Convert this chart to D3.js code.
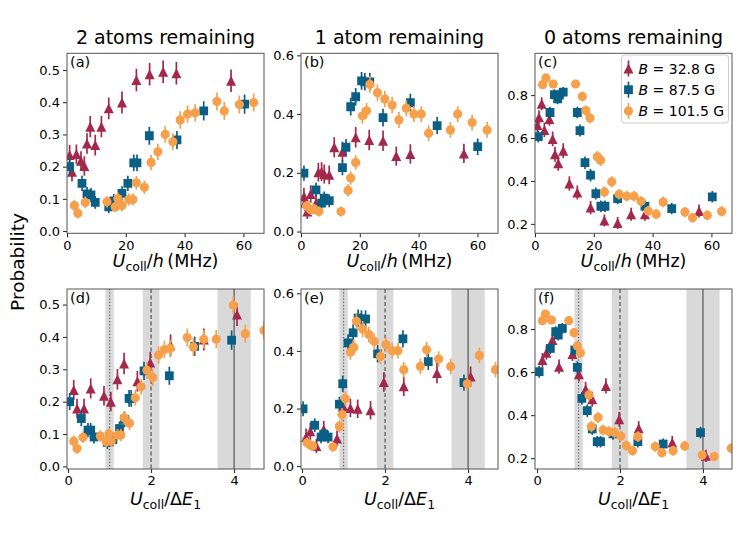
<!DOCTYPE html>
<html><head><meta charset="utf-8">
<script src="https://cdn.jsdelivr.net/npm/d3@7"></script>
<style>
body{margin:0;background:#fff}
svg{display:block}
text{font-family:"DejaVu Sans",sans-serif;fill:#000}
</style>
</head><body>
<svg id="chart" width="747" height="534"></svg>
<script>
// ---------- data ----------
const seriesNames = ["32.8 G", "87.5 G", "101.5 G"];
const seriesColors = ["#A3294C", "#0B5E84", "#F7A04C"];
const columnTitles = ["2 atoms remaining", "1 atom remaining", "0 atoms remaining"];
const panelLetters = ["(a)", "(b)", "(c)", "(d)", "(e)", "(f)"];
const topXTicks = [0, 20, 40, 60];
const bottomXTicks = [0, 2, 4];
const yTicksA = [0, 0.1, 0.2, 0.3, 0.4, 0.5];
const yTicksB = [0, 0.2, 0.4, 0.6];
const yTicksC = [0.2, 0.4, 0.6, 0.8];
const shadedBands = [[0.9, 1.1], [1.8, 2.2], [3.6, 4.4]];
const refLines = [1, 2, 4];
const refLineDash = ["1.2,2", "4,2.5", null];

// [x, y, err] — panel (a): 2 atoms, x in MHz
const aTri = [[0.9,0.236,0.031],[1.7,0.184,0.03],[3.2,0.239,0.03],[4.75,0.218,0.03],[5.9,0.202,0.03],[6.8,0.272,0.032],[7.9,0.324,0.033],[9.6,0.267,0.032],[11.7,0.324,0.033],[14.2,0.381,0.034],[18.7,0.399,0.034],[23.6,0.469,0.035],[28.1,0.487,0.035],[32.7,0.495,0.035],[37.2,0.49,0.035],[55.8,0.467,0.035]];
const aSq = [[0.9,0.2,0.026],[5.1,0.148,0.024],[6.8,0.115,0.022],[8.15,0.112,0.022],[9.6,0.089,0.02],[14.2,0.075,0.02],[15.9,0.094,0.021],[18.7,0.117,0.022],[20.7,0.148,0.024],[22.7,0.212,0.026],[23.8,0.212,0.026],[28,0.296,0.028],[37.4,0.283,0.028],[46.5,0.373,0.03],[60.4,0.394,0.03]];
const aCirc = [[2.5,0.079,0.018],[3.7,0.055,0.016],[6.2,0.089,0.018],[13.6,0.091,0.018],[16.4,0.075,0.017],[17.3,0.101,0.019],[18.7,0.079,0.018],[21,0.098,0.019],[22.4,0.098,0.019],[23.6,0.15,0.021],[26.3,0.136,0.021],[28.6,0.213,0.024],[30.9,0.246,0.025],[33.4,0.3,0.026],[36,0.277,0.026],[38.5,0.345,0.027],[41,0.363,0.027],[43.6,0.367,0.027],[51,0.402,0.028],[53.5,0.373,0.028],[58.6,0.393,0.028],[63.5,0.399,0.028]];
// panel (b): 1 atom
const bTri = [[1.0,0.119,0.03],[1.36,0.099,0.028],[2.15,0.068,0.025],[3.3,0.128,0.03],[5.1,0.097,0.028],[5.9,0.202,0.032],[7.0,0.204,0.032],[7.9,0.196,0.032],[9.6,0.193,0.032],[11.3,0.287,0.034],[14.1,0.272,0.034],[18.6,0.321,0.035],[23.2,0.312,0.035],[27.9,0.309,0.035],[32.4,0.257,0.033],[37.2,0.264,0.033],[55.4,0.266,0.033]];
const bSq = [[1.0,0.199,0.026],[5.1,0.142,0.024],[7.0,0.097,0.022],[7.9,0.114,0.022],[9.6,0.105,0.022],[14.1,0.218,0.026],[15.3,0.287,0.028],[16.9,0.425,0.03],[18.6,0.459,0.03],[20.6,0.513,0.03],[21.7,0.51,0.03],[23.4,0.51,0.03],[27.9,0.388,0.03],[37.2,0.439,0.03],[46.3,0.361,0.029],[60.1,0.289,0.028]];
const bCirc = [[1.9,0.087,0.018],[3.3,0.074,0.017],[4.4,0.077,0.017],[6.1,0.068,0.017],[13.6,0.068,0.017],[16.0,0.14,0.021],[16.9,0.182,0.023],[18.6,0.235,0.025],[20.9,0.394,0.027],[22.3,0.411,0.027],[23.4,0.501,0.028],[26.0,0.473,0.028],[28.5,0.451,0.028],[31.0,0.431,0.028],[33.3,0.38,0.027],[35.8,0.42,0.027],[38.4,0.4,0.027],[40.9,0.4,0.027],[43.4,0.335,0.027],[50.8,0.346,0.027],[53.3,0.4,0.027],[58.2,0.371,0.027],[63.3,0.346,0.027]];
// panel (c): 0 atoms
const cTri = [[0.8,0.661,0.033],[1.36,0.697,0.032],[2.27,0.76,0.03],[3.2,0.638,0.033],[4.9,0.689,0.032],[6.0,0.596,0.034],[6.8,0.524,0.035],[7.9,0.482,0.035],[9.6,0.541,0.035],[11.7,0.388,0.034],[14.4,0.346,0.033],[18.9,0.276,0.031],[23.6,0.216,0.028],[28.1,0.204,0.028],[32.7,0.245,0.03],[37.4,0.245,0.03],[55.8,0.26,0.03]];
const cSq = [[1.13,0.607,0.028],[5.1,0.719,0.027],[6.6,0.802,0.025],[7.7,0.783,0.025],[8.3,0.8,0.025],[9.6,0.814,0.024],[14.4,0.719,0.027],[15.3,0.635,0.028],[17,0.485,0.029],[18.9,0.427,0.029],[20.7,0.341,0.028],[22.4,0.282,0.027],[23.8,0.282,0.027],[28.1,0.318,0.027],[37.4,0.282,0.027],[46.5,0.271,0.026],[60.3,0.326,0.027]];
const cCirc = [[2.6,0.849,0.02],[3.7,0.88,0.018],[6.2,0.852,0.02],[13.8,0.852,0.02],[16.1,0.794,0.022],[17.3,0.728,0.024],[18.7,0.693,0.025],[21.2,0.513,0.027],[22.3,0.497,0.027],[23.6,0.349,0.026],[26.1,0.396,0.026],[28.6,0.338,0.025],[31.2,0.329,0.025],[33.7,0.329,0.025],[36.1,0.305,0.025],[38.5,0.26,0.024],[41.2,0.245,0.023],[43.6,0.302,0.025],[51,0.255,0.024],[53.6,0.229,0.023],[58.6,0.24,0.023],[63.5,0.258,0.024]];
// panel (d): 2 atoms vs U/dE1
const dTri = [[0.137,0.236,0.031],[0.217,0.179,0.03],[0.385,0.179,0.03],[0.546,0.241,0.031],[0.866,0.218,0.03],[1.03,0.2,0.03],[1.19,0.269,0.032],[1.35,0.318,0.033],[1.67,0.263,0.032],[1.98,0.321,0.033],[2.47,0.374,0.034],[3.27,0.392,0.034],[4.07,0.469,0.035]];
const dSq = [[0.04,0.2,0.026],[0.32,0.148,0.024],[0.48,0.112,0.022],[0.546,0.112,0.022],[0.625,0.091,0.02],[0.946,0.074,0.02],[1.08,0.083,0.021],[1.24,0.117,0.022],[1.36,0.145,0.024],[1.47,0.21,0.026],[1.52,0.21,0.026],[1.83,0.295,0.028],[2.44,0.28,0.028],[3.05,0.371,0.03],[3.94,0.39,0.03]];
const dCirc = [[0.137,0.078,0.018],[0.217,0.055,0.016],[0.36,0.09,0.018],[0.778,0.094,0.018],[0.92,0.076,0.017],[0.986,0.1,0.019],[1.04,0.078,0.018],[1.19,0.097,0.019],[1.27,0.097,0.019],[1.35,0.15,0.021],[1.48,0.133,0.021],[1.62,0.212,0.024],[1.76,0.246,0.025],[1.9,0.297,0.026],[2.04,0.275,0.026],[2.18,0.344,0.027],[2.32,0.361,0.027],[2.46,0.364,0.027],[2.87,0.398,0.028],[3.02,0.369,0.028],[3.27,0.393,0.028],[3.57,0.393,0.028],[3.98,0.498,0.028],[4.27,0.41,0.028],[4.72,0.42,0.028]];
// panel (e): 1 atom vs U/dE1
const eTri = [[0.097,0.101,0.03],[0.2,0.121,0.03],[0.346,0.07,0.025],[0.523,0.127,0.03],[0.843,0.096,0.028],[0.988,0.208,0.032],[1.165,0.202,0.032],[1.34,0.199,0.032],[1.65,0.194,0.032],[1.97,0.292,0.034],[2.45,0.277,0.034],[3.25,0.323,0.035],[4.06,0.311,0.035]];
const eSq = [[0.025,0.199,0.026],[0.306,0.142,0.024],[0.458,0.101,0.022],[0.523,0.111,0.022],[0.627,0.101,0.022],[0.9,0.215,0.026],[0.98,0.286,0.028],[1.11,0.428,0.03],[1.23,0.463,0.03],[1.35,0.514,0.03],[1.43,0.511,0.03],[1.53,0.511,0.03],[1.82,0.39,0.03],[2.43,0.442,0.03],[3.04,0.363,0.029],[3.9,0.29,0.028]];
const eCirc = [[0.121,0.081,0.018],[0.2,0.073,0.017],[0.258,0.07,0.017],[0.747,0.067,0.017],[0.9,0.138,0.021],[0.964,0.179,0.023],[1.045,0.234,0.025],[1.165,0.396,0.027],[1.246,0.413,0.027],[1.31,0.503,0.028],[1.46,0.476,0.028],[1.61,0.457,0.028],[1.74,0.433,0.028],[1.89,0.381,0.027],[2.02,0.422,0.027],[2.17,0.401,0.027],[2.31,0.401,0.027],[2.45,0.335,0.027],[2.85,0.346,0.027],[3.0,0.404,0.027],[3.29,0.372,0.027],[3.58,0.346,0.027],[3.98,0.286,0.027],[4.27,0.384,0.027],[4.66,0.335,0.027]];
// panel (f): 0 atoms vs U/dE1
const fTri = [[0.13,0.656,0.033],[0.226,0.69,0.032],[0.37,0.749,0.03],[0.53,0.625,0.033],[0.852,0.684,0.032],[1.01,0.59,0.034],[1.17,0.52,0.035],[1.33,0.474,0.035],[1.66,0.536,0.035],[1.98,0.381,0.034],[2.45,0.339,0.033],[3.26,0.273,0.031],[4.07,0.211,0.028]];
const fSq = [[0.05,0.602,0.028],[0.32,0.71,0.027],[0.45,0.788,0.025],[0.51,0.772,0.025],[0.61,0.803,0.025],[0.91,0.703,0.027],[0.97,0.622,0.028],[1.08,0.478,0.029],[1.21,0.421,0.029],[1.33,0.336,0.028],[1.45,0.277,0.027],[1.53,0.277,0.027],[1.83,0.313,0.027],[2.43,0.277,0.027],[3.04,0.266,0.026],[3.94,0.319,0.027]];
const fCirc = [[0.13,0.839,0.02],[0.2,0.87,0.018],[0.346,0.842,0.02],[0.764,0.839,0.02],[0.892,0.783,0.022],[0.97,0.721,0.024],[1.045,0.69,0.025],[1.25,0.494,0.027],[1.31,0.347,0.026],[1.47,0.389,0.026],[1.59,0.331,0.025],[1.73,0.324,0.025],[1.87,0.32,0.025],[2.02,0.303,0.025],[2.15,0.259,0.024],[2.3,0.235,0.023],[2.43,0.3,0.025],[2.85,0.254,0.024],[3.01,0.226,0.023],[3.28,0.235,0.023],[3.56,0.257,0.024],[3.98,0.215,0.023],[4.27,0.208,0.023],[4.68,0.246,0.024]];

// ---------- layout ----------
const svg = d3.select("#chart");
const W = 197, H = 180;
const colX = [67, 301, 535];
const rowY = [53.3, 289];
const FONT = '"DejaVu Sans", sans-serif';

const panels = [
  {c:0,r:0,xd:[0,67],yd:[-0.007,0.552],yt:yTicksA,xt:topXTicks,data:[aTri,aSq,aCirc]},
  {c:1,r:0,xd:[0,67],yd:[-0.006,0.607],yt:yTicksB,xt:topXTicks,data:[bTri,bSq,bCirc]},
  {c:2,r:0,xd:[0,67],yd:[0.156,0.995],yt:yTicksC,xt:topXTicks,data:[cTri,cSq,cCirc]},
  {c:0,r:1,xd:[-0.025,4.72],yd:[-0.008,0.548],yt:yTicksA,xt:bottomXTicks,data:[dTri,dSq,dCirc]},
  {c:1,r:1,xd:[-0.025,4.72],yd:[-0.01,0.615],yt:yTicksB,xt:bottomXTicks,data:[eTri,eSq,eCirc]},
  {c:2,r:1,xd:[-0.05,4.7],yd:[0.15,0.986],yt:yTicksC,xt:bottomXTicks,data:[fTri,fSq,fCirc]}
];

function markerPath(kind){
  if(kind===0){ const s=5; return `M0,${-s}L${s},${s}L${-s},${s}Z`; }
  if(kind===1){ const s=4.4; return `M${-s},${-s}H${s}V${s}H${-s}Z`; }
  return d3.symbol(d3.symbolCircle, Math.PI*4.6*4.6)();
}

panels.forEach((p,i)=>{
  const x0 = colX[p.c], y0 = rowY[p.r];
  const x = d3.scaleLinear().domain(p.xd).range([x0, x0+W]);
  const y = d3.scaleLinear().domain(p.yd).range([y0+H, y0]);
  const g = svg.append("g");
  const cid = "clip"+i;
  svg.append("clipPath").attr("id",cid).append("rect")
    .attr("x",x0).attr("y",y0).attr("width",W).attr("height",H);
  const plot = g.append("g").attr("clip-path",`url(#${cid})`);

  if(p.r===1){
    plot.selectAll("rect.band").data(shadedBands).join("rect")
      .attr("x",d=>x(d[0])).attr("width",d=>x(d[1])-x(d[0]))
      .attr("y",y0).attr("height",H).attr("fill","#d9d9d9");
    plot.selectAll("line.ref").data(refLines).join("line")
      .attr("x1",d=>x(d)).attr("x2",d=>x(d)).attr("y1",y0).attr("y2",y0+H)
      .attr("stroke","#555").attr("stroke-width",1.2)
      .attr("stroke-dasharray",(d,k)=>refLineDash[k]);
  }

  p.data.forEach((series,k)=>{
    const sg = plot.append("g");
    sg.selectAll("line").data(series).join("line")
      .attr("x1",d=>x(d[0])).attr("x2",d=>x(d[0]))
      .attr("y1",d=>y(d[1]-d[2])).attr("y2",d=>y(d[1]+d[2]))
      .attr("stroke",seriesColors[k]).attr("stroke-width",1.7);
    sg.selectAll("path").data(series).join("path")
      .attr("d",markerPath(k))
      .attr("transform",d=>`translate(${x(d[0])},${y(d[1])})`)
      .attr("fill",seriesColors[k]);
  });

  // axes
  const ya = g.append("g").attr("transform",`translate(${x0},0)`)
    .call(d3.axisLeft(y).tickValues(p.yt).tickFormat(d3.format(".1f")).tickSize(4).tickPadding(3));
  const xa = g.append("g").attr("transform",`translate(0,${y0+H})`)
    .call(d3.axisBottom(x).tickValues(p.xt).tickFormat(d3.format("d")).tickSize(4).tickPadding(3));
  [ya,xa].forEach(a=>{
    a.select(".domain").remove();
    a.selectAll("line").attr("stroke","#222");
    a.selectAll("text").attr("font-size",13).attr("font-family",FONT).attr("fill","#000");
  });
  g.append("rect").attr("x",x0).attr("y",y0).attr("width",W).attr("height",H)
    .attr("fill","none").attr("stroke","#555").attr("stroke-width",1);

  g.append("text").attr("x",x0+3).attr("y",y0+14).attr("font-size",14.5).text(panelLetters[i]);
});

// column titles
columnTitles.forEach((t,c)=>{
  svg.append("text").attr("x",colX[c]+W/2).attr("y",44).attr("text-anchor","middle")
    .attr("font-size",19).text(t);
});

// x labels
colX.forEach(cx=>{
  const t = svg.append("text").attr("x",cx+W/2).attr("y",267).attr("text-anchor","middle").attr("font-size",17.5);
  t.append("tspan").attr("font-style","italic").text("U");
  t.append("tspan").attr("dy",4).attr("font-size",12.5).text("coll");
  t.append("tspan").attr("dy",-4).text("/");
  t.append("tspan").attr("font-style","italic").text("h");
  t.append("tspan").text("\u2009(MHz)");

  const b = svg.append("text").attr("x",cx+W/2).attr("y",505).attr("text-anchor","middle").attr("font-size",17.5);
  b.append("tspan").attr("font-style","italic").text("U");
  b.append("tspan").attr("dy",4).attr("font-size",12.5).text("coll");
  b.append("tspan").attr("dy",-4).text("/\u0394");
  b.append("tspan").attr("font-style","italic").text("E");
  b.append("tspan").attr("dy",4).attr("font-size",12.5).text("1");
});

// y label
svg.append("text").attr("transform","translate(24,262) rotate(-90)")
  .attr("text-anchor","middle").attr("font-size",18.5).text("Probability");

// legend in panel (c)
const lg = svg.append("g");
lg.append("rect").attr("x",621.5).attr("y",55).attr("width",107).attr("height",68)
  .attr("rx",3).attr("fill","#fff").attr("fill-opacity",0.85).attr("stroke","#ccc").attr("stroke-width",1);
seriesNames.forEach((n,k)=>{
  const cy = 68.5 + k*21.2;
  lg.append("line").attr("x1",628.5).attr("x2",628.5).attr("y1",cy-8).attr("y2",cy+8)
    .attr("stroke",seriesColors[k]).attr("stroke-width",1.7);
  lg.append("path").attr("d",markerPath(k)).attr("transform",`translate(628.5,${cy})`).attr("fill",seriesColors[k]);
  const t = lg.append("text").attr("x",638.5).attr("y",cy+5).attr("font-size",14);
  t.append("tspan").attr("font-style","italic").text("B");
  t.append("tspan").text(" = " + n);
});
</script>
</body></html>
